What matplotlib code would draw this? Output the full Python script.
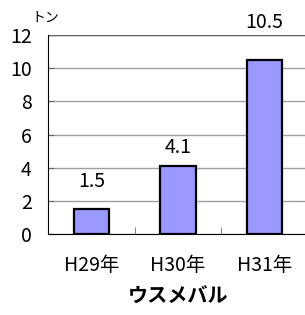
import matplotlib
matplotlib.use("Agg")
import matplotlib.pyplot as plt

plt.rcParams['font.family'] = ['Noto Sans CJK JP', 'DejaVu Sans']

years = ["H29年", "H30年", "H31年"]
catch = [1.5, 4.1, 10.5]
title = "ウスメバル"
unit = "トン"

fig = plt.figure(figsize=(3.05, 3.15), dpi=100)
ax = fig.add_axes([0.159, 0.257, 0.849, 0.632])

x = range(len(years))
bars = ax.bar(x, catch, width=0.41, color="#9999ff", edgecolor="black",
              linewidth=1.6, zorder=3)

# label gaps above bars (points)
gaps = [12, 5.5, 19]
for b, v, g in zip(bars, catch, gaps):
    ax.annotate(f"{v}", (b.get_x() + b.get_width() / 2, v),
                xytext=(0, g), textcoords="offset points",
                ha="center", va="bottom", fontsize=14)

ax.set_xlim(-0.5, 2.5)
ax.set_ylim(0, 12)
ax.set_yticks(range(0, 13, 2))
ax.set_xticks(list(x))
ax.set_xticklabels(years)
ax.set_xticks([0.5, 1.5], minor=True)
ax.yaxis.grid(True, color="#a0a0a0", linewidth=1.0, zorder=0)
ax.set_axisbelow(True)

for s in ["top", "right"]:
    ax.spines[s].set_visible(False)
ax.spines["left"].set_color("black")
ax.spines["bottom"].set_color("black")
ax.axhline(12, color="#666666", linewidth=1.0, zorder=1)

ax.tick_params(axis="y", direction="in", length=4, color="#666666",
               labelsize=14, pad=12)
ax.tick_params(axis="x", which="major", length=0, labelsize=14, pad=15)
ax.tick_params(axis="x", which="minor", direction="in", length=5,
               color="#666666")

ax.set_xlabel(title, fontsize=14.5, fontweight="bold", labelpad=7)
fig.text(0.15, 0.943, unit, fontsize=10, ha="center", va="center")

fig.savefig("out.png", dpi=100)
